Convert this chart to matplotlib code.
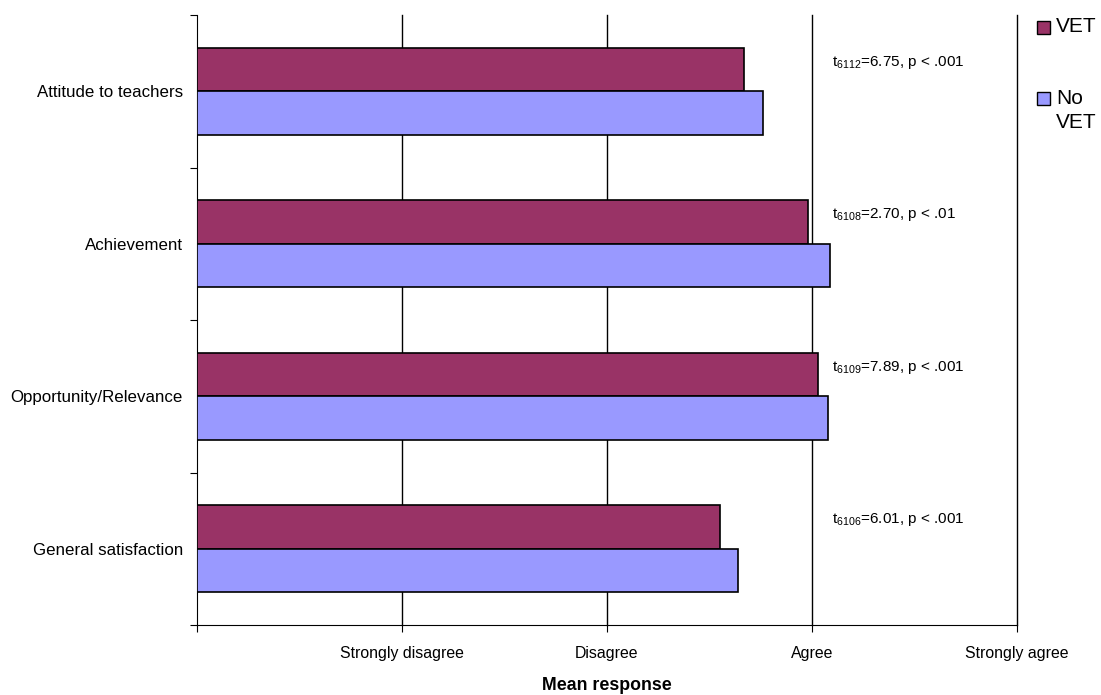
import matplotlib
matplotlib.use("Agg")
import matplotlib.pyplot as plt
from matplotlib.patches import Rectangle

plt.rcParams['font.family'] = ['Liberation Sans', 'DejaVu Sans']
plt.rcParams['mathtext.fontset'] = 'custom'
plt.rcParams['mathtext.rm'] = 'Liberation Sans'
plt.rcParams['mathtext.default'] = 'regular'

categories = ["Attitude to teachers", "Achievement", "Opportunity/Relevance", "General satisfaction"]
vet = [2.67, 2.98, 3.03, 2.55]
no_vet = [2.76, 3.09, 3.08, 2.64]
annotations = [r"t$_{6112}$=6.75, p < .001", r"t$_{6108}$=2.70, p < .01",
               r"t$_{6109}$=7.89, p < .001", r"t$_{6106}$=6.01, p < .001"]
scale_labels = ["", "Strongly disagree", "Disagree", "Agree", "Strongly agree"]

c_vet = "#993366"
c_novet = "#9999FF"

fig = plt.figure(figsize=(11.01, 6.95), dpi=100)
ax = fig.add_axes([197 / 1101, 1 - 625 / 695, 820 / 1101, 610 / 695])

bh = 0.285
centers = [i + 0.5 for i in range(len(categories))]
ax.barh([c - bh / 2 for c in centers], vet, height=bh, color=c_vet, edgecolor="black", linewidth=1.2, zorder=3)
ax.barh([c + bh / 2 for c in centers], no_vet, height=bh, color=c_novet, edgecolor="black", linewidth=1.2, zorder=3)

for c, txt in zip(centers, annotations):
    ax.text(3.10, c - 0.19, txt, fontsize=11, va="center", ha="left")

ax.set_xlim(0, 4)
ax.set_ylim(len(categories), 0)
ax.set_xticks(range(5))
ax.set_xticklabels(scale_labels, fontsize=11.4)
ax.set_yticks(range(len(categories) + 1))
ax.set_yticklabels([])
ax.set_yticks(centers, minor=True)
ax.set_yticklabels(categories, minor=True, fontsize=12.2)
ax.tick_params(axis="y", which="minor", length=0, pad=10)
ax.tick_params(axis="y", which="major", length=5, direction="out")
ax.tick_params(axis="x", length=5, direction="out", pad=10)

for x in range(1, 5):
    ax.axvline(x, color="black", linewidth=1, zorder=1, clip_on=False)
for s in ["top", "right"]:
    ax.spines[s].set_visible(False)

fig.text(607 / 1101, 1 - 685 / 695, "Mean response", ha="center", va="center", fontsize=12.8, fontweight="bold")

# legend
for yc, col, lab in [(27, c_vet, "VET"), (98, c_novet, "No")]:
    fig.add_artist(Rectangle((1037 / 1101, 1 - (yc + 6.5) / 695), 13 / 1101, 13 / 695,
                             facecolor=col, edgecolor="black", linewidth=1, transform=fig.transFigure))
    fig.text(1056 / 1101, 1 - yc / 695, lab, ha="left", va="center", fontsize=15)
fig.text(1056 / 1101, 1 - 123 / 695, "VET", ha="left", va="center", fontsize=15)

fig.savefig("out.png", dpi=100)
